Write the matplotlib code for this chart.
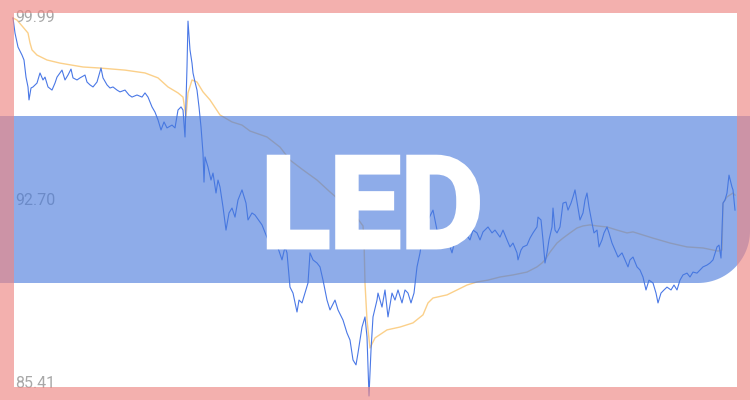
import numpy as np
import matplotlib.pyplot as plt
import matplotlib.patheffects as pe
from matplotlib.patches import Polygon, Rectangle

# Trading day index and closing price
days = [0, 2, 5, 9, 11, 13, 15, 16, 18, 20, 24, 27, 30, 32, 35, 39, 42, 44, 49, 52,
        55, 58, 60, 64, 67, 72, 74, 77, 80, 84, 88, 90, 94, 97, 100, 104, 107, 112, 116, 119,
        124, 129, 132, 135, 139, 142, 145, 148, 151, 154, 159, 162, 165, 168, 170, 172, 174, 175, 177, 179,
        180, 182, 184, 186, 188, 190, 191, 192, 195, 198, 200, 203, 205, 207, 210, 213, 216, 219, 222, 225,
        229, 233, 235, 239, 242, 249, 255, 262, 265, 269, 272, 274, 277, 280, 284, 286, 289, 292, 295, 297,
        300, 304, 307, 310, 314, 317, 322, 325, 330, 334, 337, 340, 343, 345, 349, 352, 354, 356, 358, 360,
        364, 365, 369, 372, 375, 379, 382, 385, 389, 392, 395, 398, 401, 404, 407, 410, 415, 420, 424, 427,
        430, 434, 437, 439, 442, 445, 449, 452, 457, 460, 464, 467, 470, 475, 479, 482, 487, 490, 494, 497,
        500, 504, 505, 508, 510, 514, 517, 520, 524, 525, 528, 530, 532, 534, 536, 539, 540, 542, 544, 547,
        550, 553, 555, 558, 560, 562, 564, 567, 570, 572, 574, 576, 579, 581, 584, 586, 589, 591, 594, 596,
        599, 602, 605, 609, 612, 615, 617, 620, 624, 627, 630, 633, 636, 640, 643, 645, 648, 651, 654, 658,
        661, 664, 667, 670, 674, 677, 680, 684, 687, 690, 694, 697, 700, 704, 706, 708, 710, 712, 714, 716,
        719, 720, 722]
price = [99.99, 99.41, 98.87, 98.56, 98.37, 97.71, 97.33, 96.83, 97.29, 97.33, 97.48, 97.87, 97.60, 97.71, 97.33, 97.21, 97.48, 97.71, 97.98, 97.60,
         97.79, 98.02, 97.68, 97.60, 97.68, 97.79, 97.52, 97.41, 97.33, 97.52, 98.06, 97.68, 97.41, 97.29, 97.33, 97.21, 97.14, 97.21, 97.02, 96.94,
         97.02, 96.94, 97.10, 96.94, 96.56, 96.36, 96.06, 95.67, 95.98, 95.75, 95.86, 95.75, 96.44, 96.56, 96.44, 95.40, 98.10, 99.87, 98.76, 98.25,
         97.87, 97.52, 97.21, 96.56, 95.79, 94.78, 93.66, 94.63, 94.24, 93.74, 94.01, 93.24, 93.74, 93.47, 92.70, 91.81, 92.47, 92.66, 92.31, 92.97,
         93.36, 92.85, 92.20, 92.47, 92.39, 92.01, 91.43, 91.16, 91.12, 90.66, 91.16, 90.93, 89.61, 89.38, 88.65, 89.11, 89.00, 89.38, 89.77, 90.93,
         90.66, 90.54, 90.39, 89.88, 89.11, 88.73, 89.11, 88.73, 88.34, 87.84, 87.57, 86.80, 86.61, 87.07, 88.07, 88.46, 87.69, 85.41, 87.18, 88.46,
         89.11, 89.38, 88.84, 89.50, 88.46, 89.38, 89.11, 89.50, 89.00, 89.50, 89.38, 89.00, 89.38, 90.39, 90.93, 91.70, 92.20, 92.58, 91.81, 91.16,
         91.43, 91.70, 91.16, 90.93, 91.43, 91.70, 91.43, 91.70, 91.43, 91.81, 91.70, 91.43, 91.74, 91.93, 91.70, 91.81, 91.54, 91.81, 91.43, 91.16,
         91.31, 90.93, 90.66, 91.04, 91.16, 91.23, 91.50, 91.70, 91.93, 92.31, 92.20, 91.43, 90.54, 90.93, 91.43, 91.93, 92.66, 91.81, 91.70, 91.93,
         92.85, 92.89, 92.58, 92.85, 93.09, 93.36, 92.89, 92.20, 92.47, 92.97, 93.24, 92.70, 92.08, 91.70, 91.81, 91.16, 91.43, 91.70, 91.93, 91.70,
         91.31, 91.04, 90.77, 90.93, 90.66, 90.39, 90.66, 90.77, 90.39, 90.27, 90.00, 89.50, 89.88, 89.77, 89.38, 89.00, 89.38, 89.50, 89.61, 89.50,
         89.69, 89.50, 89.88, 90.08, 90.15, 90.00, 90.19, 90.15, 90.27, 90.39, 90.46, 90.54, 90.66, 91.16, 91.23, 90.73, 92.85, 92.97, 93.24, 93.93,
         93.47, 93.36, 92.58]

# Moving average
ma_days = [0, 4, 10, 15, 17, 19, 24, 34, 47, 70, 87, 112, 132, 145, 155, 165, 170, 172, 173, 175,
           179, 184, 190, 197, 207, 219, 229, 237, 254, 267, 277, 290, 304, 317, 332, 342, 350, 351, 352, 354,
           357, 362, 374, 387, 400, 410, 415, 420, 434, 444, 454, 464, 475, 487, 500, 514, 524, 529, 532, 537,
           544, 550, 557, 564, 570, 577, 584, 594, 604, 614, 620, 640, 657, 674, 690, 705, 709, 710, 714, 720, 722]
ma = [99.99, 99.91, 99.64, 99.41, 99.03, 98.76, 98.56, 98.37, 98.25, 98.10, 98.06, 97.98, 97.87, 97.68, 97.33, 97.10, 96.94, 96.44, 96.17, 97.10,
      97.60, 97.52, 97.14, 96.83, 96.25, 95.98, 95.86, 95.63, 95.40, 95.01, 94.51, 94.13, 93.74, 93.28, 92.78, 92.39, 91.97, 91.42, 89.76, 88.34,
      87.26, 87.65, 87.96, 88.07, 88.23, 88.54, 89.00, 89.19, 89.31, 89.50, 89.69, 89.81, 89.88, 90.00, 90.08, 90.19, 90.39, 90.54, 90.66, 90.96,
      91.31, 91.50, 91.70, 91.89, 91.97, 92.01, 91.97, 91.93, 91.81, 91.70, 91.74, 91.50, 91.31, 91.16, 91.12, 91.00, 91.04, 92.85, 93.09, 93.24, 93.16]

tick_labels = ['99.99', '92.70', '85.41']
title = 'LED'

W, H = 750, 400
fig = plt.figure(figsize=(W / 100, H / 100), dpi=100)
ax = fig.add_axes([0, 0, 1, 1])
ax.set_xlim(-13, 737)
ax.set_ylim(85.256, 100.684)
ax.axis('off')

ax.plot(days, price, color='#4a78e6', lw=0.8, zorder=2)
ax.plot(ma_days, ma, color='#fbd08a', lw=1.0, zorder=1)

# y labels (under the band)
for lab, yp in zip(tick_labels, [18, 201, 384]):
    fig.text(15 / W, 1 - yp / H, lab, ha='left', va='center', fontsize=11.5,
             color='#a8a8a8', family='Roboto', zorder=3)

# blue band with rounded bottom-right corner
r = 52
top, bot = H - 116, H - 283
ang = np.linspace(0, -np.pi / 2, 30)
arc = np.column_stack([W - r + r * np.cos(ang), bot + r + r * np.sin(ang)])
pts = np.vstack([[[0, top], [W, top]], arc, [[0, bot]]])
pts = pts / [W, H]
fig.patches.append(Polygon(pts, closed=True, transform=fig.transFigure,
                           facecolor='#4678dc', alpha=0.61, edgecolor='none', zorder=4))

# pink frame on top
pink = dict(facecolor='#ee8683', alpha=0.65, edgecolor='none', transform=fig.transFigure, zorder=5)
for x0, y0, w, h in [(0, 0, W, 13), (0, 387, W, 13), (0, 13, 14, 374), (737, 13, 13, 374)]:
    fig.patches.append(Rectangle((x0 / W, 1 - (y0 + h) / H), w / W, h / H, **pink))

fig.text(372 / W, 1 - 247 / H, title, ha='center', va='baseline', fontsize=91,
         fontweight='bold', family='Roboto', color='white', zorder=6,
         path_effects=[pe.withStroke(linewidth=3.5, foreground='white', joinstyle='miter')])

fig.savefig('out.png', dpi=100)
